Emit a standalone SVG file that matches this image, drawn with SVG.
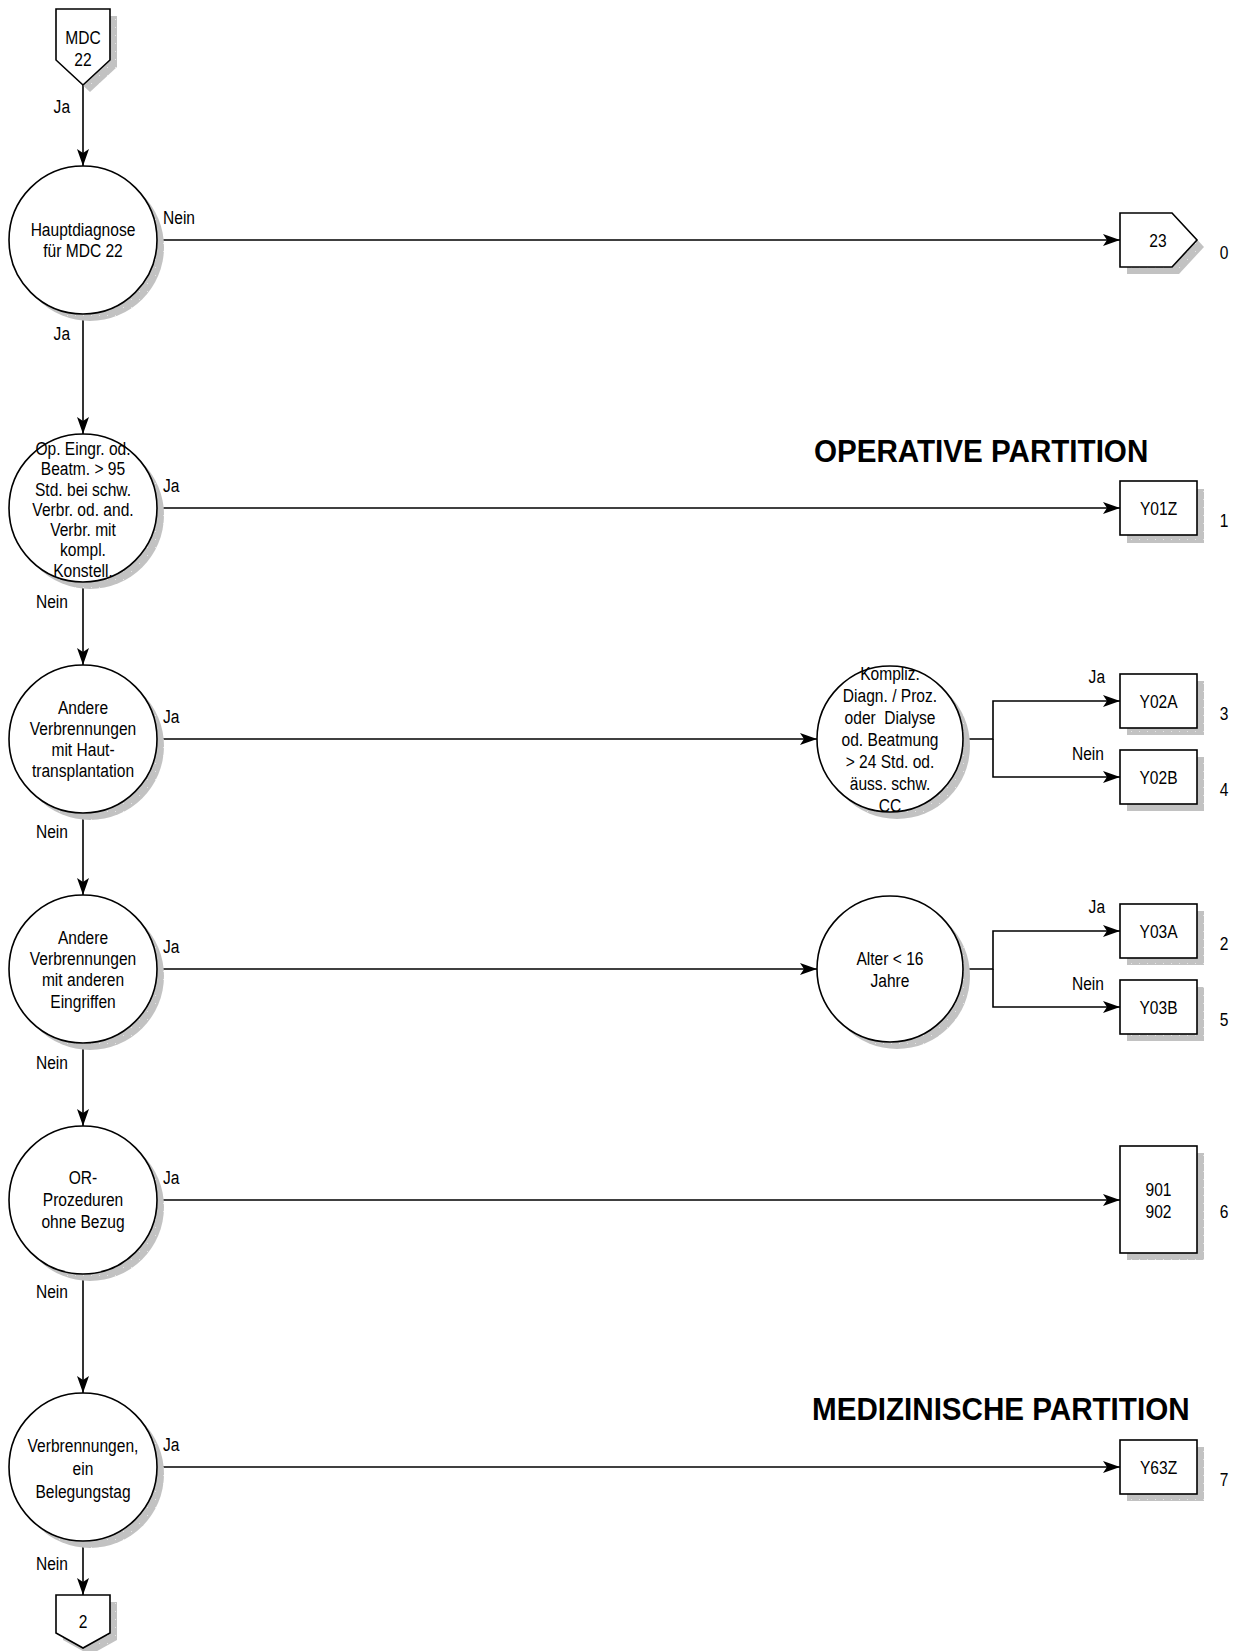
<svg xmlns="http://www.w3.org/2000/svg" width="1240" height="1651" viewBox="0 0 1240 1651">
<style>
text{font-family:"Liberation Sans",Arial,sans-serif;font-size:19px;fill:#000;transform-box:fill-box;transform-origin:left center;transform:scaleX(0.82)}
.c{text-anchor:middle;transform-origin:center}
.e{text-anchor:end;transform-origin:right center}
.h{font-weight:bold;font-size:31.5px;transform:scaleX(0.94)}
.sh{fill:url(#dots);stroke:none}
.sp{fill:#fff;stroke:#000;stroke-width:1.6}
.ln{fill:none;stroke:#000;stroke-width:1.6}
</style>
<defs>
<pattern id="dots" width="8" height="8" patternUnits="userSpaceOnUse"><rect width="8" height="8" fill="#c2c2c2"/><rect x="3" y="3" width="1" height="1" fill="#e6e6e6"/></pattern>
<marker id="arr" markerWidth="18" markerHeight="13" refX="17" refY="6.5" orient="auto" markerUnits="userSpaceOnUse"><path d="M0,0.5 L17,6.5 L0,12.5 L4,6.5 Z" fill="#000"/></marker>
</defs>
<g id="connectors">
<path class="ln" d="M83,85 V166" marker-end="url(#arr)"/>
<path class="ln" d="M83,314 V434" marker-end="url(#arr)"/>
<path class="ln" d="M83,582 V665" marker-end="url(#arr)"/>
<path class="ln" d="M83,813 V895" marker-end="url(#arr)"/>
<path class="ln" d="M83,1043 V1126" marker-end="url(#arr)"/>
<path class="ln" d="M83,1274 V1393" marker-end="url(#arr)"/>
<path class="ln" d="M83,1541 V1595" marker-end="url(#arr)"/>
<path class="ln" d="M157,240 H1120" marker-end="url(#arr)"/>
<path class="ln" d="M157,508 H1120" marker-end="url(#arr)"/>
<path class="ln" d="M157,739 H817" marker-end="url(#arr)"/>
<path class="ln" d="M963,739 H993 V701 H1120" marker-end="url(#arr)"/>
<path class="ln" d="M993,739 V777 H1120" marker-end="url(#arr)"/>
<path class="ln" d="M157,969 H817" marker-end="url(#arr)"/>
<path class="ln" d="M963,969 H993 V931 H1120" marker-end="url(#arr)"/>
<path class="ln" d="M993,969 V1007 H1120" marker-end="url(#arr)"/>
<path class="ln" d="M157,1200 H1120" marker-end="url(#arr)"/>
<path class="ln" d="M157,1467 H1120" marker-end="url(#arr)"/>
<text class="e" x="70" y="113">Ja</text>
<text class="e" x="70" y="340">Ja</text>
<text class="e" x="68" y="608">Nein</text>
<text class="e" x="68" y="838">Nein</text>
<text class="e" x="68" y="1069">Nein</text>
<text class="e" x="68" y="1298">Nein</text>
<text class="e" x="68" y="1570">Nein</text>
<text x="163" y="224">Nein</text>
<text x="163" y="492">Ja</text>
<text x="163" y="723">Ja</text>
<text x="163" y="953">Ja</text>
<text x="163" y="1184">Ja</text>
<text x="163" y="1451">Ja</text>
<text class="e" x="1105" y="683">Ja</text>
<text class="e" x="1104" y="760">Nein</text>
<text class="e" x="1105" y="913">Ja</text>
<text class="e" x="1104" y="990">Nein</text>
</g>
<g id="headings">
<text class="h" x="814" y="462">OPERATIVE PARTITION</text>
<text class="h" x="812" y="1420">MEDIZINISCHE PARTITION</text>
</g>
<g id="start">
<polygon class="sh" points="63,16 117,16 117,67 90,92 63,67"/>
<polygon class="sp" points="56,9 110,9 110,60 83,85 56,60"/>
<text class="c" x="83" y="44">MDC</text>
<text class="c" x="83" y="66">22</text>
</g>
<g id="hauptdiagnose">
<circle class="sh" cx="90" cy="247" r="74"/>
<circle class="sp" cx="83" cy="240" r="74"/>
<text class="c" x="83" y="236">Hauptdiagnose</text>
<text class="c" x="83" y="257">für MDC 22</text>
</g>
<g id="exit23">
<polygon class="sh" points="1127,220 1179,220 1204,247 1179,274 1127,274"/>
<polygon class="sp" points="1120,213 1172,213 1197,240 1172,267 1120,267"/>
<text class="c" x="1158" y="247">23</text>
<text class="c" x="1224" y="259">0</text>
</g>
<g id="op">
<circle class="sh" cx="90" cy="515" r="74"/>
<circle class="sp" cx="83" cy="508" r="74"/>
<text class="c" x="83" y="455">Op. Eingr. od.</text>
<text class="c" x="83" y="475.3">Beatm. &gt; 95</text>
<text class="c" x="83" y="495.6">Std. bei schw.</text>
<text class="c" x="83" y="515.9">Verbr. od. and.</text>
<text class="c" x="83" y="536.2">Verbr. mit</text>
<text class="c" x="83" y="556.5">kompl.</text>
<text class="c" x="83" y="576.8">Konstell.</text>
</g>
<g id="y01z">
<rect class="sh" x="1127" y="489" width="77" height="54"/>
<rect class="sp" x="1120" y="481" width="77" height="54"/>
<text class="c" x="1158.5" y="515">Y01Z</text>
<text class="c" x="1224" y="527">1</text>
</g>
<g id="haut">
<circle class="sh" cx="90" cy="746" r="74"/>
<circle class="sp" cx="83" cy="739" r="74"/>
<text class="c" x="83" y="714">Andere</text>
<text class="c" x="83" y="735">Verbrennungen</text>
<text class="c" x="83" y="756">mit Haut-</text>
<text class="c" x="83" y="777.5">transplantation</text>
</g>
<g id="kompliz">
<circle class="sh" cx="897" cy="746" r="73"/>
<circle class="sp" cx="890" cy="739" r="73"/>
<text class="c" x="890" y="680">Kompliz.</text>
<text class="c" x="890" y="702">Diagn. / Proz.</text>
<text class="c" x="890" y="724" xml:space="preserve">oder  Dialyse</text>
<text class="c" x="890" y="746">od. Beatmung</text>
<text class="c" x="890" y="768">&gt; 24 Std. od.</text>
<text class="c" x="890" y="790">äuss. schw.</text>
<text class="c" x="890" y="812">CC</text>
</g>
<g id="y02a">
<rect class="sh" x="1127" y="681" width="77" height="54"/>
<rect class="sp" x="1120" y="674" width="77" height="54"/>
<text class="c" x="1158.5" y="708">Y02A</text>
<text class="c" x="1224" y="720">3</text>
</g>
<g id="y02b">
<rect class="sh" x="1127" y="757" width="77" height="54"/>
<rect class="sp" x="1120" y="750" width="77" height="54"/>
<text class="c" x="1158.5" y="784">Y02B</text>
<text class="c" x="1224" y="796">4</text>
</g>
<g id="andere">
<circle class="sh" cx="90" cy="976" r="74"/>
<circle class="sp" cx="83" cy="969" r="74"/>
<text class="c" x="83" y="944">Andere</text>
<text class="c" x="83" y="965">Verbrennungen</text>
<text class="c" x="83" y="986">mit anderen</text>
<text class="c" x="83" y="1008">Eingriffen</text>
</g>
<g id="alter">
<circle class="sh" cx="897" cy="976" r="73"/>
<circle class="sp" cx="890" cy="969" r="73"/>
<text class="c" x="890" y="965">Alter &lt; 16</text>
<text class="c" x="890" y="987">Jahre</text>
</g>
<g id="y03a">
<rect class="sh" x="1127" y="911" width="77" height="54"/>
<rect class="sp" x="1120" y="904" width="77" height="54"/>
<text class="c" x="1158.5" y="938">Y03A</text>
<text class="c" x="1224" y="950">2</text>
</g>
<g id="y03b">
<rect class="sh" x="1127" y="987" width="77" height="54"/>
<rect class="sp" x="1120" y="980" width="77" height="54"/>
<text class="c" x="1158.5" y="1014">Y03B</text>
<text class="c" x="1224" y="1026">5</text>
</g>
<g id="or">
<circle class="sh" cx="90" cy="1207" r="74"/>
<circle class="sp" cx="83" cy="1200" r="74"/>
<text class="c" x="83" y="1184">OR-</text>
<text class="c" x="83" y="1206">Prozeduren</text>
<text class="c" x="83" y="1228">ohne Bezug</text>
</g>
<g id="b901">
<rect class="sh" x="1127" y="1153" width="77" height="107"/>
<rect class="sp" x="1120" y="1146" width="77" height="107"/>
<text class="c" x="1158.5" y="1196">901</text>
<text class="c" x="1158.5" y="1218">902</text>
<text class="c" x="1224" y="1218">6</text>
</g>
<g id="verbr">
<circle class="sh" cx="90" cy="1474" r="74"/>
<circle class="sp" cx="83" cy="1467" r="74"/>
<text class="c" x="83" y="1452">Verbrennungen,</text>
<text class="c" x="83" y="1475">ein</text>
<text class="c" x="83" y="1498">Belegungstag</text>
</g>
<g id="y63z">
<rect class="sh" x="1127" y="1447" width="77" height="54"/>
<rect class="sp" x="1120" y="1440" width="77" height="54"/>
<text class="c" x="1158.5" y="1474">Y63Z</text>
<text class="c" x="1224" y="1486">7</text>
</g>
<g id="exit2">
<polygon class="sh" points="63,1602 117,1602 117,1640 90,1655 63,1640"/>
<polygon class="sp" points="56,1595 110,1595 110,1633 83,1648 56,1633"/>
<text class="c" x="83" y="1628">2</text>
</g>
</svg>
